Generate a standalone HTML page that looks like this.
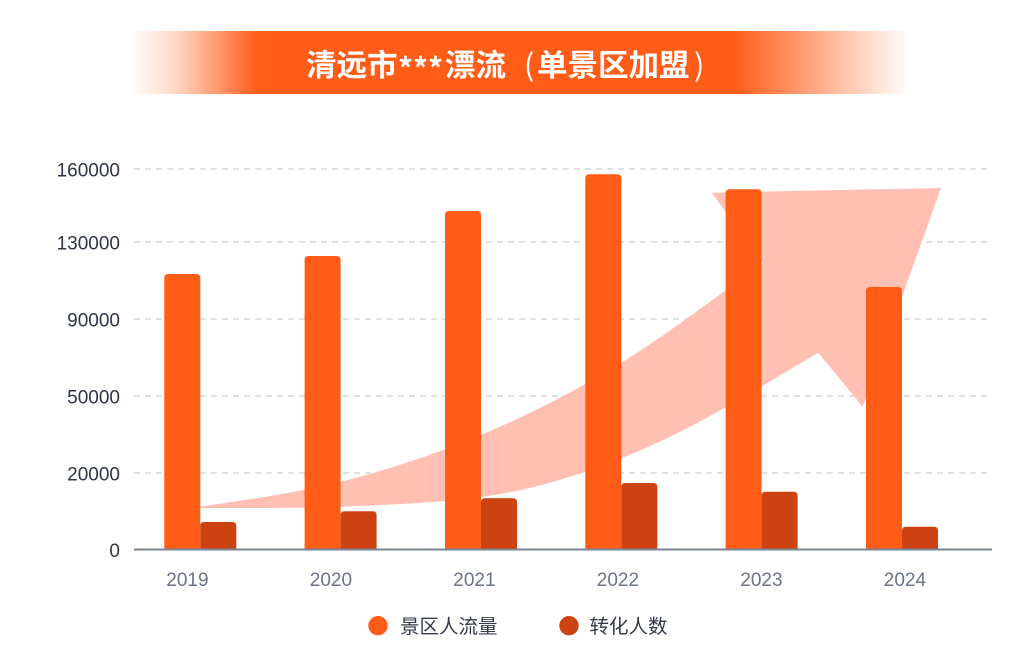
<!DOCTYPE html>
<html>
<head>
<meta charset="utf-8">
<style>
  html,body{margin:0;padding:0;background:#ffffff;}
  body{width:1035px;height:660px;overflow:hidden;}
  svg{display:block;}
  .ylab{font-family:"Liberation Sans","Noto Sans CJK SC",sans-serif;font-size:19px;fill:#2e3547;}
  .xlab{font-family:"Liberation Sans","Noto Sans CJK SC",sans-serif;font-size:19px;fill:#6b7386;}
  .leg{font-family:"Liberation Sans","Noto Sans CJK SC",sans-serif;font-size:19.5px;fill:#333a4a;}
  .ttl{font-family:"Noto Sans CJK SC","Liberation Sans",sans-serif;font-size:30.5px;font-weight:700;fill:#ffffff;}
</style>
</head>
<body>
<svg width="1035" height="660" viewBox="0 0 1035 660" xmlns="http://www.w3.org/2000/svg">
  <defs>
    <linearGradient id="ban" x1="130" y1="0" x2="910" y2="0" gradientUnits="userSpaceOnUse">
      <stop offset="0" stop-color="#ff5c17" stop-opacity="0"/>
      <stop offset="0.06" stop-color="#ff5c17" stop-opacity="0.25"/>
      <stop offset="0.165" stop-color="#ff5c17" stop-opacity="1"/>
      <stop offset="0.775" stop-color="#ff5c17" stop-opacity="1"/>
      <stop offset="0.93" stop-color="#ff5c17" stop-opacity="0.3"/>
      <stop offset="1" stop-color="#ff5c17" stop-opacity="0"/>
    </linearGradient>
  </defs>

  <!-- Title banner -->
  <rect x="130" y="31" width="780" height="63" fill="url(#ban)"/>
  <text class="ttl" x="306" y="76">清远市</text>
  <text class="ttl" x="398" y="80" textLength="45" lengthAdjust="spacingAndGlyphs">***</text>
  <text class="ttl" x="445" y="76">漂流</text>
  <text class="ttl" x="524" y="76" style="font-weight:400">(</text>
  <text class="ttl" x="537" y="76">单景区加盟</text>
  <text class="ttl" x="694" y="76" style="font-weight:400">)</text>

  <!-- Gridlines -->
  <g stroke="#d6d6de" stroke-width="1.5" stroke-dasharray="6 5">
    <line x1="134" y1="169" x2="992" y2="169"/>
    <line x1="134" y1="242" x2="992" y2="242"/>
    <line x1="134" y1="319" x2="992" y2="319"/>
    <line x1="134" y1="396" x2="992" y2="396"/>
    <line x1="134" y1="473" x2="992" y2="473"/>
  </g>

  <!-- Y labels -->
  <g class="ylab" text-anchor="end">
    <text x="120" y="176.5">160000</text>
    <text x="120" y="249.5">130000</text>
    <text x="120" y="326.5">90000</text>
    <text x="120" y="403.5">50000</text>
    <text x="120" y="480.5">20000</text>
    <text x="120" y="557">0</text>
  </g>

  <!-- Arrow -->
  <path fill="#ffbfb3" d="
    M200,507
    C223.3,502.8 293.2,494 340,482
    C386.8,470 434.2,454.8 481,435
    C527.8,415.2 574,391.7 621,363
    C668,334.3 739.3,279.7 763,263
    L711.7,192.7 L941,188 L862.7,406.7 L818.3,352.7
    C796.9,365 728.9,406.9 690,426.7
    C651.1,446.5 619.8,460 585,471.7
    C550.2,483.4 521.8,491.2 481,497
    C440.2,502.8 386.8,504.9 340,506.7
    C293.2,508.5 223.3,507.8 200,508 Z"/>

  <!-- Bars -->
  <g fill="#ff5c17">
    <path d="M164.3,548.5 V278 Q164.3,274 168.3,274 H196.3 Q200.3,274 200.3,278 V548.5 Z"/>
    <path d="M304.6,548.5 V260 Q304.6,256 308.6,256 H336.6 Q340.6,256 340.6,260 V548.5 Z"/>
    <path d="M445,548.5 V215 Q445,211 449,211 H477 Q481,211 481,215 V548.5 Z"/>
    <path d="M585.3,548.5 V178.3 Q585.3,174.3 589.3,174.3 H617.3 Q621.3,174.3 621.3,178.3 V548.5 Z"/>
    <path d="M725.6,548.5 V193.3 Q725.6,189.3 729.6,189.3 H757.6 Q761.6,189.3 761.6,193.3 V548.5 Z"/>
    <path d="M866,548.5 V291 Q866,287 870,287 H898 Q902,287 902,291 V548.5 Z"/>
  </g>
  <g fill="#cc4210">
    <path d="M200.3,548.5 V526 Q200.3,522 204.3,522 H232.3 Q236.3,522 236.3,526 V548.5 Z"/>
    <path d="M340.6,548.5 V515.3 Q340.6,511.3 344.6,511.3 H372.6 Q376.6,511.3 376.6,515.3 V548.5 Z"/>
    <path d="M481,548.5 V502.3 Q481,498.3 485,498.3 H513 Q517,498.3 517,502.3 V548.5 Z"/>
    <path d="M621.3,548.5 V487 Q621.3,483 625.3,483 H653.3 Q657.3,483 657.3,487 V548.5 Z"/>
    <path d="M761.6,548.5 V495.7 Q761.6,491.7 765.6,491.7 H793.6 Q797.6,491.7 797.6,495.7 V548.5 Z"/>
    <path d="M902,548.5 V530.7 Q902,526.7 906,526.7 H934 Q938,526.7 938,530.7 V548.5 Z"/>
  </g>

  <!-- X axis -->
  <line x1="134" y1="549.5" x2="992" y2="549.5" stroke="#7b8494" stroke-width="2"/>

  <!-- X labels -->
  <g class="xlab" text-anchor="middle">
    <text x="187.4" y="586">2019</text>
    <text x="330.9" y="586">2020</text>
    <text x="474.4" y="586">2021</text>
    <text x="617.9" y="586">2022</text>
    <text x="761.4" y="586">2023</text>
    <text x="904.9" y="586">2024</text>
  </g>

  <!-- Legend -->
  <circle cx="378" cy="625.7" r="9.7" fill="#ff5c17"/>
  <text class="leg" x="400" y="633">景区人流量</text>
  <circle cx="569" cy="625.7" r="9.7" fill="#cc4210"/>
  <text class="leg" x="589.5" y="633">转化人数</text>
</svg>
</body>
</html>
